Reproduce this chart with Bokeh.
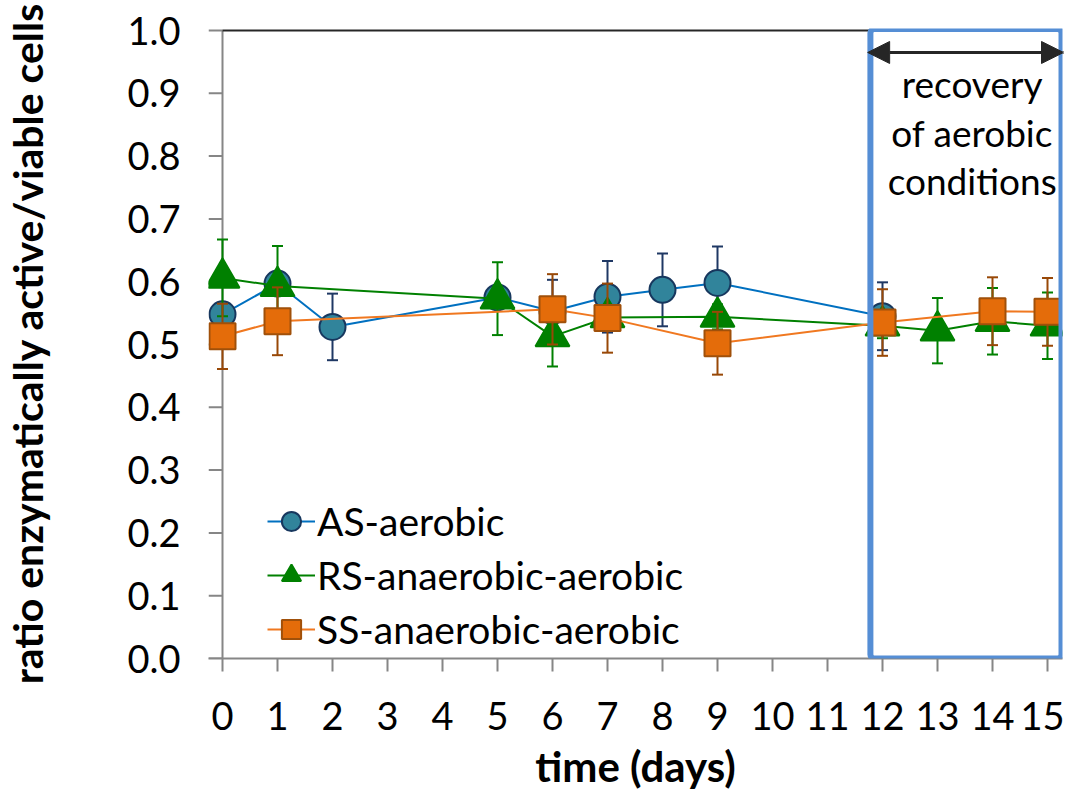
from bokeh.plotting import figure
from bokeh.models import (Range1d, FixedTicker, NumeralTickFormatter, Legend, LegendItem,
                          BoxAnnotation, Arrow, NormalHead, Label)
from bokeh.embed import file_html
from bokeh.resources import INLINE

# ---------------- data ----------------
as_days = [0, 1, 2, 5, 6, 7, 8, 9, 12]
as_vals = [0.548, 0.597, 0.528, 0.575, 0.553, 0.576, 0.587, 0.598, 0.545]
as_err = [0.015, 0.015, 0.053, 0.015, 0.050, 0.057, 0.058, 0.058, 0.054]

rs_days = [0, 1, 5, 6, 7, 9, 12, 13, 14, 15]
rs_vals = [0.606, 0.593, 0.573, 0.513, 0.543, 0.544, 0.530, 0.522, 0.537, 0.530]
rs_err = [0.061, 0.064, 0.058, 0.048, 0.020, 0.020, 0.020, 0.052, 0.053, 0.053]

ss_days = [0, 1, 6, 7, 9, 12, 14, 15]
ss_vals = [0.513, 0.537, 0.556, 0.542, 0.502, 0.535, 0.553, 0.552]
ss_err = [0.052, 0.054, 0.056, 0.055, 0.050, 0.053, 0.054, 0.054]

x_ticks = list(range(0, 16))
y_ticks = [round(i * 0.1, 1) for i in range(0, 11)]
y_title = "ratio enzymatically active/viable cells"
x_title = "time (days)"
note_lines = ["recovery", "of aerobic", "conditions"]

FONT = "Lato"
AX_GRAY = "#868686"

X0 = -14 / 55
X1 = X0 + 854 / 55
p = figure(width=1064, height=793, output_backend="svg", toolbar_location=None,
           x_range=Range1d(X0, X1), y_range=Range1d(0, 1 + 2 / 628),
           min_border_left=208, min_border_right=2, min_border_top=28, min_border_bottom=135)
p.outline_line_color = None
p.xgrid.visible = False
p.ygrid.visible = False
p.background_fill_color = "white"
p.border_fill_color = "white"

# axes
p.xaxis.ticker = FixedTicker(ticks=x_ticks)
p.yaxis.ticker = FixedTicker(ticks=y_ticks)
p.yaxis.formatter = NumeralTickFormatter(format="0.0")
for ax in (p.xaxis[0], p.yaxis[0]):
    ax.major_label_text_font = FONT
    ax.major_label_text_font_size = "38px"
    ax.major_label_text_color = "black"
    ax.axis_label_text_font = FONT
    ax.axis_label_text_font_style = "bold"
    ax.axis_label_text_color = "black"
    ax.minor_tick_line_color = None
p.xaxis.axis_label = x_title
p.yaxis.axis_label = y_title
p.xaxis.axis_label_text_font_size = "42px"
p.yaxis.axis_label_text_font_size = "41px"
p.xaxis.axis_line_color = AX_GRAY
p.xaxis.axis_line_width = 2
p.xaxis.major_tick_line_color = AX_GRAY
p.xaxis.major_tick_line_width = 2
p.xaxis.major_tick_in = 0
p.xaxis.major_tick_out = 13
p.xaxis.major_label_standoff = 30
p.xaxis.axis_label_standoff = 8
p.yaxis.axis_line_color = None
p.yaxis.major_tick_line_color = None
p.yaxis.major_tick_in = 0
p.yaxis.major_tick_out = 0
p.yaxis.major_label_standoff = 28
p.yaxis.axis_label_standoff = 72

# manual y-axis line, ticks and top border
p.segment(x0=[0], y0=[0], x1=[0], y1=[1.0], line_color=AX_GRAY, line_width=2)
p.segment(x0=[X0] * len(y_ticks), y0=y_ticks, x1=[0] * len(y_ticks), y1=y_ticks,
          line_color=AX_GRAY, line_width=2)
p.segment(x0=[0], y0=[1.0], x1=[11.8], y1=[1.0], line_color="#262626", line_width=2)


def series(days, vals, err, line_color, err_color, marker, size, fill, outline):
    lo = [v - e for v, e in zip(vals, err)]
    hi = [v + e for v, e in zip(vals, err)]
    p.segment(x0=days, y0=lo, x1=days, y1=hi, line_color=err_color, line_width=2)
    p.scatter(x=days + days, y=lo + hi, marker="dash", size=11, line_color=err_color, line_width=2)
    lr = p.line(days, vals, line_color=line_color, line_width=2)
    sr = p.scatter(days, vals, marker=marker, size=size, fill_color=fill,
                   line_color=outline, line_width=2)
    return lr, sr


as_r = series(as_days, as_vals, as_err, "#0070C0", "#1F3864", "circle", 26, "#31849B", "#17375E")
rs_r = series(rs_days, rs_vals, rs_err, "#008000", "#008000", "triangle", 34, "#008000", "#008000")
ss_r = series(ss_days, ss_vals, ss_err, "#F07820", "#984807", "square", 26, "#E46C0A", "#A0500A")

legend = Legend(items=[
    LegendItem(label="AS-aerobic", renderers=list(as_r)),
    LegendItem(label="RS-anaerobic-aerobic", renderers=list(rs_r)),
    LegendItem(label="SS-anaerobic-aerobic", renderers=list(ss_r)),
], location=(59, 2))
legend.background_fill_alpha = 0
legend.border_line_color = None
legend.label_text_font = FONT
legend.label_text_font_size = "39px"
legend.label_text_color = "black"
legend.glyph_width = 48
legend.glyph_height = 54
legend.label_height = 54
legend.spacing = 0
legend.padding = 0
legend.margin = 0
legend.label_standoff = 2
p.add_layout(legend)

# recovery box, arrow and note
box = BoxAnnotation(left=11.78, right=(1061 - 222) / 55, bottom=0, top=1.0024,
                    fill_alpha=0, line_color="#558ED5", line_alpha=1.0, line_width=6,
                    border_radius=4)
p.add_layout(box)
arrow = Arrow(start=NormalHead(size=22, fill_color="#262626", line_color="#262626"),
              end=NormalHead(size=22, fill_color="#262626", line_color="#262626"),
              x_start=11.73, y_start=0.965, x_end=(1063 - 222) / 55, y_end=0.965,
              line_color="#262626", line_width=3)
p.add_layout(arrow)
for txt, yy in zip(note_lines, [0.9156, 0.8376, 0.7611]):
    p.add_layout(Label(x=13.63, y=yy, text=txt, text_align="center", text_baseline="alphabetic",
                       text_font=FONT, text_font_size="37px", text_color="black"))

open("out.html", "w").write(file_html(p, INLINE))
